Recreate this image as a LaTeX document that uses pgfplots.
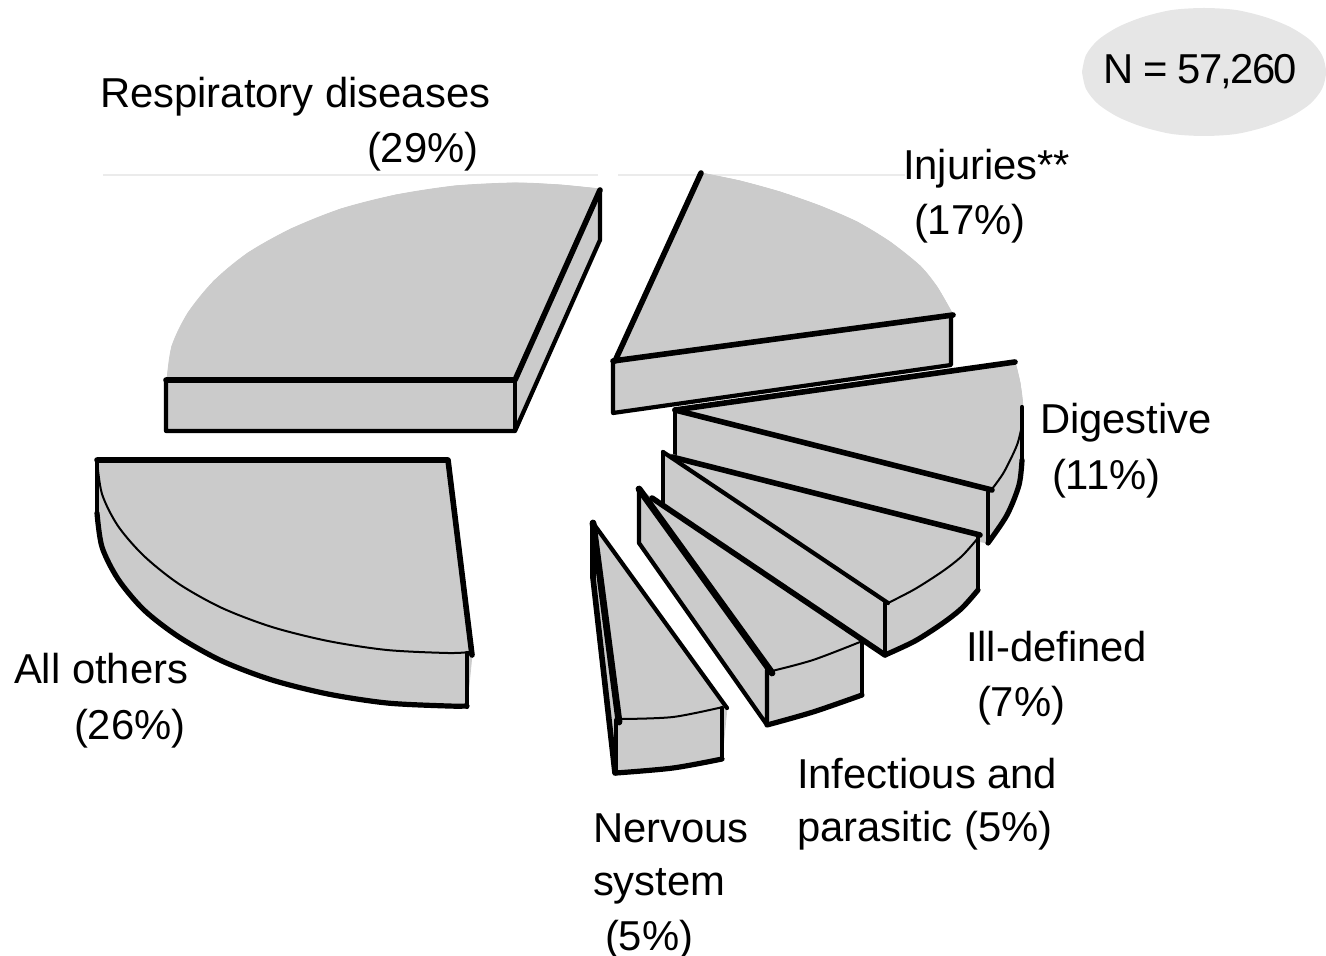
\documentclass[border=0pt]{standalone}
\usepackage{fontspec}
\setmainfont{Liberation Sans}
\usepackage{pgfplots}
\pgfplotsset{compat=1.18}
\definecolor{pie}{HTML}{CBCBCB}
\definecolor{ov}{HTML}{E6E6E6}
\pgfplotsset{
  surf/.style={fill=pie,draw=pie,line width=0.4pt,forget plot,mark=none},
  arcf/.style={fill=pie,draw=pie,line width=0.4pt,forget plot,mark=none,smooth},
  th/.style={black,line width=2.8pt,mark=none,forget plot,line join=round,line cap=round},
  md/.style={black,line width=2.1pt,mark=none,forget plot,line join=round,line cap=round},
  tn/.style={black,line width=1pt,mark=none,forget plot,smooth},
  ol/.style={black,line width=2.6pt,mark=none,forget plot,smooth,line cap=round},
}
\tikzset{lab/.style={anchor=base west,inner sep=0pt,outer sep=0pt,font=\fontsize{20.9}{25}\selectfont}}
\begin{document}
\begin{tikzpicture}
\begin{axis}[scale only axis,width=663pt,height=478pt,hide axis,clip=false,
  xmin=0,xmax=1326,ymin=0,ymax=956,y dir=reverse]
\path (axis cs:0,0) (axis cs:1326,956);
% N ellipse
\addplot[fill=ov,draw=none,smooth,forget plot,mark=none] coordinates {(1082,72)(1086,55)(1098,40)(1118,27)(1143,17)(1172,10)(1204,8)(1236,10)(1265,17)(1290,27)(1310,40)(1322,55)(1326,72)(1322,89)(1310,104)(1290,117)(1265,127)(1236,134)(1204,136)(1172,134)(1143,127)(1118,117)(1098,104)(1086,89)(1082,72)};
% faint lines
\addplot[color=black!8,line width=0.7pt,forget plot,mark=none] coordinates {(103,175)(598,175)};
\addplot[color=black!8,line width=0.7pt,forget plot,mark=none] coordinates {(618,175)(905,175)};
% Respiratory
\addplot[surf] coordinates {(166,380)(515,380)(600,189)(600,240)(515,431)(166,431)} -- cycle;
\addplot[surf] coordinates {(167,380)(172,346)(188,313)(214,281)(248,253)(291,229)(341,209)(396,195)(455,186)(515,183)(560,185)(600,189)(515,380)} -- cycle;
\addplot[arcf] coordinates {(167,380)(172,346)(188,313)(214,281)(248,253)(291,229)(341,209)(396,195)(455,186)(515,183)(560,185)(600,189)};
\addplot[th] coordinates {(166,380)(515,380)(600,190)};
\addplot[md] coordinates {(166,380)(166,431)(515,431)(600,240)(600,190)};
\addplot[md] coordinates {(515,380)(515,431)};
% Digestive
\addplot[surf] coordinates {(675,410)(1015,362)(1020,383)(1023,410)(1022,460)(1019,485)(1007,515)(988,543)(675,493)} -- cycle;
\addplot[arcf] coordinates {(1015,362)(1020,383)(1023,410)(1022,460)(1019,485)(1007,515)(988,543)};
\addplot[th] coordinates {(675,410)(1015,362)};
\addplot[th] coordinates {(675,410)(992,490)};
\addplot[md] coordinates {(675,410)(675,460)};
\addplot[md] coordinates {(988,492)(988,543)};
\addplot[tn] coordinates {(1022,425)(1017,445)(1004,472)(992,489)};
\addplot[md] coordinates {(1022,407)(1022,460)};
\addplot[ol] coordinates {(1022,460)(1019,485)(1007,515)(988,543)};
% Injuries
\addplot[surf] coordinates {(701,173)(740,181)(780,192)(820,206)(857,222)(890,242)(920,266)(937,287)(952,313)(951,365)(613,413)(613,361)} -- cycle;
\addplot[arcf] coordinates {(701,173)(740,181)(780,192)(820,206)(857,222)(890,242)(920,266)(937,287)(952,313)};
\addplot[th] coordinates {(701,173)(615,361)};
\addplot[th] coordinates {(613,361)(953,315)};
\addplot[md] coordinates {(613,361)(613,413)(951,365)(951,315)};
% Ill-defined
\addplot[surf] coordinates {(663,452)(980,535)(978,590)(962,608)(943,623)(915,641)(885,655)(663,505)} -- cycle;
\addplot[arcf] coordinates {(978,590)(962,608)(943,623)(915,641)(885,655)};
\addplot[arcf] coordinates {(978,538)(962,556)(943,571)(915,589)(888,603)};
\addplot[md] coordinates {(663,452)(888,603)};
\addplot[th] coordinates {(672,457)(980,535)};
\addplot[md] coordinates {(663,452)(663,505)};
\addplot[md] coordinates {(885,603)(885,655)};
\addplot[md] coordinates {(978,537)(978,590)};
\addplot[tn] coordinates {(978,538)(962,556)(943,571)(915,589)(888,603)};
\addplot[ol] coordinates {(978,590)(962,608)(943,623)(915,641)(885,655)};
% Infectious
\addplot[surf] coordinates {(639,489)(862,642)(862,695)(767,725)(639,543)} -- cycle;
\addplot[arcf] coordinates {(772,671)(813,660)(860,642)};
\addplot[arcf] coordinates {(767,725)(813,712)(862,695)};
\addplot[line width=3.4pt,black,mark=none,forget plot,line join=round,line cap=round] coordinates {(639,489)(772,673)};
\addplot[md] coordinates {(639,489)(639,543)(767,725)(767,670)};
\addplot[md] coordinates {(862,642)(862,695)};
\addplot[tn] coordinates {(772,671)(813,660)(860,642)};
\addplot[ol] coordinates {(767,725)(813,712)(862,695)};
% lower edge of Ill-defined, over the Infectious slice
\addplot[th] coordinates {(652,498)(885,655)};
% Nervous
\addplot[surf] coordinates {(593,523)(727,708)(722,759)(615,773)(593,578)} -- cycle;
\addplot[arcf] coordinates {(622,719)(673,717)(723,707)};
\addplot[arcf] coordinates {(616,773)(673,768)(722,759)};
\addplot[md] coordinates {(593,523)(727,708)};
\addplot[line width=3.4pt,black,mark=none,forget plot,line cap=round] coordinates {(593,523)(619,722)};
\addplot[th] coordinates {(593,523)(593,578)(615,773)};
\addplot[md] coordinates {(722,708)(722,759)};
\addplot[md] coordinates {(616,720)(616,773)};
\addplot[tn] coordinates {(622,719)(673,717)(723,707)};
\addplot[ol] coordinates {(616,773)(673,768)(722,759)};
% All others
\addplot[surf] coordinates {(97,460)(448,460)(472,655)(467,706)(448,706)(387,703)(328,694)(272,680)(222,661)(179,637)(144,610)(118,579)(102,547)(97,513)} -- cycle;
\addplot[arcf] coordinates {(97,513)(102,547)(118,579)(144,610)(179,637)(222,661)(272,680)(328,694)(387,703)(448,706)(467,706)};
\addplot[th] coordinates {(97,460)(448,460)(472,655)};
\addplot[md] coordinates {(97,460)(97,513)};
\addplot[md] coordinates {(467,653)(467,707)};
\addplot[tn] coordinates {(97,460)(102,494)(118,526)(144,556)(179,584)(222,608)(272,627)(328,641)(387,650)(448,653)(470,652)};
\addplot[ol] coordinates {(97,513)(102,547)(118,579)(144,610)(179,637)(222,661)(272,680)(328,694)(387,703)(448,706)(467,706)};
% Labels
\node[lab] at (axis cs:100,108) {Respiratory diseases};
\node[lab] at (axis cs:367,163) {(29\%)};
\node[lab] at (axis cs:903,180) {Injuries**};
\node[lab] at (axis cs:914,235) {(17\%)};
\node[lab] at (axis cs:1040,434) {Digestive};
\node[lab] at (axis cs:1052,489) {(11\%)};
\node[lab] at (axis cs:966,661) {Ill-defined};
\node[lab] at (axis cs:977,716) {(7\%)};
\node[lab] at (axis cs:797,788) {Infectious and};
\node[lab] at (axis cs:797,841) {parasitic (5\%)};
\node[lab] at (axis cs:593,842) {Nervous};
\node[lab] at (axis cs:593,895) {system};
\node[lab,overlay] at (axis cs:605,950) {(5\%)};
\node[lab] at (axis cs:14,683) {All others};
\node[lab] at (axis cs:74,739) {(26\%)};
\node[lab] at (axis cs:1103,84) {\addfontfeature{LetterSpace=-4.0}N = 57,260};
\end{axis}
\end{tikzpicture}
\end{document}
